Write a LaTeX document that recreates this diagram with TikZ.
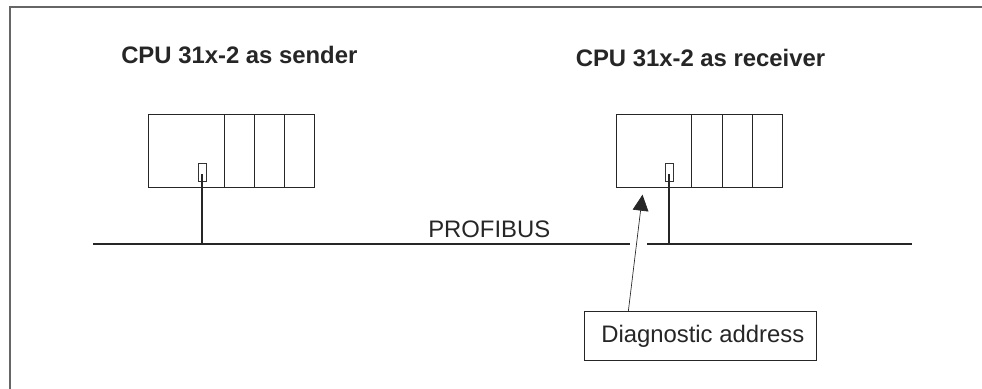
\documentclass[tikz,border=0pt]{standalone}
\usepackage{fontspec}
\setmainfont{Liberation Sans}
\usetikzlibrary{arrows.meta}
\tikzset{
  cell/.style={draw=black!85,line width=0.7pt,minimum height=55.1pt,inner sep=0pt,outer sep=0pt,anchor=north west},
  slotbox/.style={draw=black!80,line width=0.7pt,fill=white,minimum width=6pt,minimum height=13.8pt,inner sep=0pt,outer sep=0pt,anchor=north west},
  busline/.style={draw=black!85,line width=1.7pt},
  stemline/.style={draw=black!85,line width=2pt},
  title/.style={font=\bfseries\fontsize{17.9}{20}\selectfont,text=black!85,inner sep=0pt,anchor=base west},
  plain/.style={font=\fontsize{17.9}{20}\selectfont,text=black!85,inner sep=0pt,anchor=base west},
}
\begin{document}
\begin{tikzpicture}[x=0.75pt,y=-0.75pt]
\useasboundingbox (0,0) rectangle (982,389);
\fill[white] (0,0) rectangle (982,389);
\draw[black!60,line width=1.5pt] (10,389) -- (10,7) -- (982,7);
% sender
\node[cell,minimum width=57pt] (s0) at (148.5,114) {};
\node[cell,minimum width=22.5pt] (s1) at (224.5,114) {};
\node[cell,minimum width=22.5pt] (s2) at (254.5,114) {};
\node[cell,minimum width=22.5pt] (s3) at (284.5,114) {};
\node[slotbox] (sslot) at (198,163) {};
% receiver
\node[cell,minimum width=56.6pt] (r0) at (616,114) {};
\node[cell,minimum width=22.9pt] (r1) at (691.5,114) {};
\node[cell,minimum width=22.5pt] (r2) at (722,114) {};
\node[cell,minimum width=22.5pt] (r3) at (752,114) {};
\node[slotbox] (rslot) at (665,163) {};
% bus
\coordinate (busA) at (93,244);
\coordinate (busB) at (630,244);
\coordinate (busC) at (647,244);
\coordinate (busD) at (912,244);
\draw[busline] (busA) -- (busB);
\draw[busline] (busC) -- (busD);
\coordinate (sT) at (202,174);
\coordinate (sB) at (202,244);
\coordinate (rT) at (669,174);
\coordinate (rB) at (669,244);
\draw[stemline] (sT) -- (sB);
\draw[stemline] (rT) -- (rB);
% labels
\node[title] (t1) at (121,63) {CPU 31x-2 as sender};
\node[title] (t2) at (575.5,66) {CPU 31x-2 as receiver};
\node[plain] (pb) at (428,237.5) {PROFIBUS};
% callout
\node[draw=black!85,line width=0.7pt,fill=white,anchor=north west,minimum width=174pt,minimum height=36.4pt,inner sep=0pt,outer sep=0pt] (diag) at (584,311.5) {};
\node[plain] (dt) at (601,342) {Diagnostic address};
\coordinate (tip) at (642.5,194.7);
\coordinate (tail) at (628.3,311.5);
\draw[black!85,line width=0.5pt,-{Triangle[length=12pt,width=11.8pt]}] (tail) -- (tip);
\end{tikzpicture}
\end{document}
